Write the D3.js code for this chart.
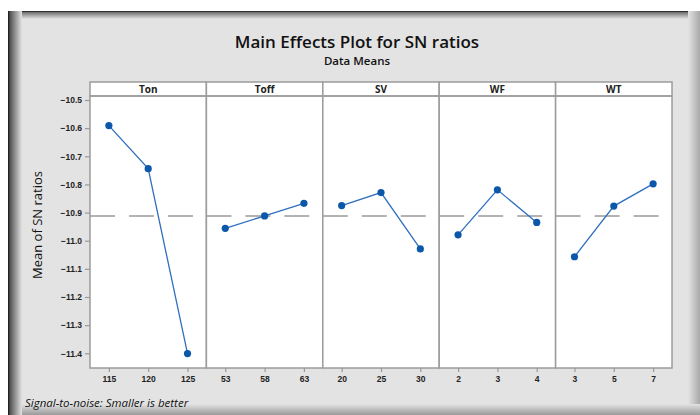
<!DOCTYPE html>
<html>
<head>
<meta charset="utf-8">
<script src="https://cdn.jsdelivr.net/npm/d3@7"></script>
<style>
  body { margin: 0; background: #fff; }
  svg { display: block; font-family: "Open Sans", "DejaVu Sans", sans-serif; }
</style>
</head>
<body>
<div id="chart"></div>
<script>
// factors and their levels
var factors = ["Ton", "Toff", "SV", "WF", "WT"];
var levelsTon  = ["115", "120", "125"];
var levelsToff = ["53", "58", "63"];
var levelsSV   = ["20", "25", "30"];
var levelsWF   = ["2", "3", "4"];
var levelsWT   = ["3", "5", "7"];

// mean SN ratio at each level
var snTon  = [-10.591, -10.744, -11.401];
var snToff = [-10.956, -10.912, -10.867];
var snSV   = [-10.875, -10.829, -11.029];
var snWF   = [-10.979, -10.819, -10.935];
var snWT   = [-11.057, -10.877, -10.798];

var overallMean = -10.912;
var yTicks = [-10.5, -10.6, -10.7, -10.8, -10.9, -11.0, -11.1, -11.2, -11.3, -11.4];

var levels = [levelsTon, levelsToff, levelsSV, levelsWF, levelsWT];
var values = [snTon, snToff, snSV, snWF, snWT];

var w = 700, h = 415;
var plotLeft = 90, plotRight = 672, plotTop = 96, plotBottom = 368, stripTop = 82;
var pw = (plotRight - plotLeft) / factors.length;

var svg = d3.select("#chart").append("svg")
    .attr("width", w)
    .attr("height", h);

var defs = svg.append("defs");
function grad(id, x1, y1, x2, y2, stops) {
  var g = defs.append("linearGradient").attr("id", id)
      .attr("x1", x1).attr("y1", y1).attr("x2", x2).attr("y2", y2);
  stops.forEach(function(s) {
    g.append("stop").attr("offset", s[0]).attr("stop-color", s[1]);
  });
}
grad("gl", 0, 0, 1, 0, [[0, "#111"], [0.15, "#555"], [1, "#e3e3e3"]]);
grad("gt", 0, 0, 0, 1, [[0, "#111"], [0.2, "#777"], [1, "#e3e3e3"]]);
grad("gr", 0, 0, 1, 0, [[0, "#e3e3e3"], [1, "#a8a8a8"]]);
grad("gb", 0, 0, 0, 1, [[0, "#e3e3e3"], [1, "#9a9a9a"]]);

// frame background
svg.append("rect").attr("x", 8).attr("y", 11).attr("width", w - 8).attr("height", h - 11).attr("fill", "#e3e3e3");
svg.append("rect").attr("x", 8).attr("y", 11).attr("width", w - 8).attr("height", 8).attr("fill", "url(#gt)");
svg.append("rect").attr("x", 688).attr("y", 11).attr("width", 12).attr("height", h - 11).attr("fill", "url(#gr)");
svg.append("rect").attr("x", 8).attr("y", 404).attr("width", w - 8).attr("height", 11).attr("fill", "url(#gb)");
svg.append("rect").attr("x", 8).attr("y", 11).attr("width", 14).attr("height", h - 11).attr("fill", "url(#gl)");

// titles
svg.append("text").attr("x", 357).attr("y", 48).attr("text-anchor", "middle")
    .attr("font-size", 17).attr("font-weight", 600).attr("fill", "#111")
    .text("Main Effects Plot for SN ratios");
svg.append("text").attr("x", 357).attr("y", 65).attr("text-anchor", "middle")
    .attr("font-size", 11.5).attr("font-weight", 600).attr("fill", "#111")
    .text("Data Means");

var yScale = d3.scaleLinear()
    .domain([-10.5, -11.4])
    .range([100, 353.3]);

// y axis
var yAxis = d3.axisLeft(yScale).tickValues(yTicks).tickSize(5).tickFormat(d3.format(".1f"));
var gy = svg.append("g").attr("transform", "translate(" + plotLeft + ",0)").call(yAxis);
gy.select(".domain").remove();
gy.selectAll(".tick line").attr("stroke", "#999").attr("stroke-width", 1.2);
gy.selectAll(".tick text").attr("font-size", 8.5).attr("font-weight", 700).attr("fill", "#222");

svg.append("text")
    .attr("transform", "translate(42,225) rotate(-90)")
    .attr("text-anchor", "middle")
    .attr("font-size", 13).attr("font-weight", 500).attr("fill", "#111")
    .text("Mean of SN ratios");

factors.forEach(function(f, i) {
  var x0 = plotLeft + i * pw, x1 = x0 + pw;
  var xScale = d3.scalePoint().domain(levels[i]).range([x0, x1]).padding(0.48);
  var g = svg.append("g");

  g.append("rect").attr("x", x0).attr("y", plotTop).attr("width", pw).attr("height", plotBottom - plotTop)
      .attr("fill", "#fff");

  // strip
  g.append("rect").attr("x", x0).attr("y", stripTop).attr("width", pw).attr("height", plotTop - stripTop)
      .attr("fill", "#fff").attr("stroke", "#9c9c9c").attr("stroke-width", 1.5);
  g.append("text").attr("x", (x0 + x1) / 2).attr("y", plotTop - 3.5).attr("text-anchor", "middle")
      .attr("font-size", 10).attr("font-weight", 700).attr("fill", "#222").text(f);

  // reference line
  g.append("line").attr("x1", x0).attr("x2", x1)
      .attr("y1", yScale(overallMean)).attr("y2", yScale(overallMean))
      .attr("stroke", "#9a9a9a").attr("stroke-width", 1.5).attr("stroke-dasharray", "25,14");

  g.append("rect").attr("x", x0).attr("y", plotTop).attr("width", pw).attr("height", plotBottom - plotTop)
      .attr("fill", "none").attr("stroke", "#9c9c9c").attr("stroke-width", 1.5);

  var xAxis = d3.axisBottom(xScale).tickSize(4).tickPadding(4);
  var gx = g.append("g").attr("transform", "translate(0," + plotBottom + ")").call(xAxis);
  gx.select(".domain").remove();
  gx.selectAll(".tick line").attr("stroke", "#999").attr("stroke-width", 1.2);
  gx.selectAll(".tick text").attr("font-size", 8.5).attr("font-weight", 700).attr("fill", "#222");

  var pts = levels[i].map(function(l, j) { return [l, values[i][j]]; });
  var line = d3.line().x(function(d) { return xScale(d[0]); }).y(function(d) { return yScale(d[1]); });
  g.append("path").datum(pts).attr("d", line)
      .attr("fill", "none").attr("stroke", "#2f6fbf").attr("stroke-width", 1.3);
  g.selectAll("circle").data(pts).enter().append("circle")
      .attr("cx", function(d) { return xScale(d[0]); })
      .attr("cy", function(d) { return yScale(d[1]); })
      .attr("r", 3.6)
      .attr("fill", "#0b57aa");
});

svg.append("text").attr("x", 25).attr("y", 407)
    .attr("font-size", 11.5).attr("font-style", "italic").attr("fill", "#111")
    .text("Signal-to-noise: Smaller is better");
</script>
</body>
</html>
